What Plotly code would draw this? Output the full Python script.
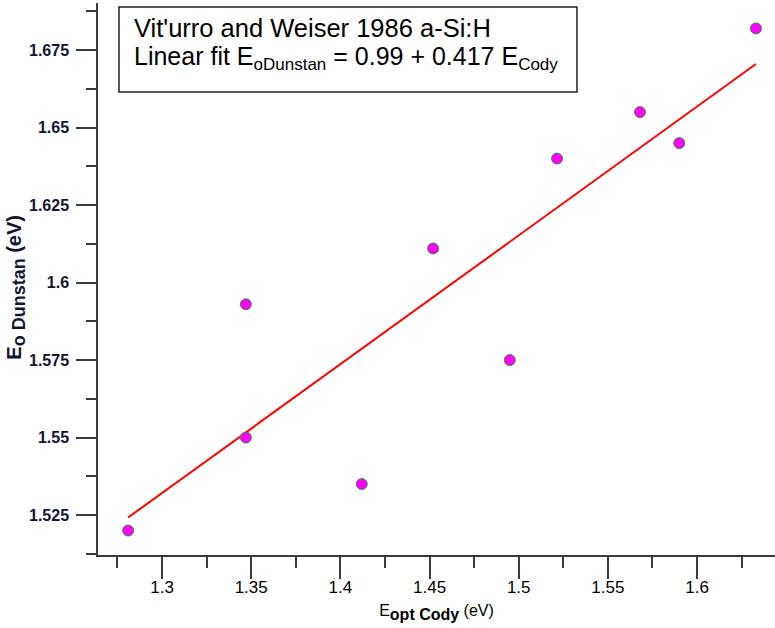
import plotly.graph_objects as go

# Data
e_cody = [1.281, 1.347, 1.347, 1.412, 1.452, 1.495, 1.5215, 1.568, 1.590, 1.633]
e_dunstan = [1.520, 1.593, 1.550, 1.535, 1.611, 1.575, 1.640, 1.655, 1.645, 1.682]

fit_x = [1.281, 1.633]
fit_y = [1.5242, 1.6705]

x_tickvals = [1.3, 1.35, 1.4, 1.45, 1.5, 1.55, 1.6]
x_ticktext = ["1.3", "1.35", "1.4", "1.45", "1.5", "1.55", "1.6"]
x_minorvals = [1.275, 1.325, 1.375, 1.425, 1.475, 1.525, 1.575, 1.625]

y_tickvals = [1.525, 1.55, 1.575, 1.6, 1.625, 1.65, 1.675]
y_ticktext = ["1.525", "1.55", "1.575", "1.6", "1.625", "1.65", "1.675"]
y_minorvals = [1.5125, 1.5375, 1.5625, 1.5875, 1.6125, 1.6375, 1.6625, 1.6875]

line1 = "Vit'urro and Weiser 1986 a-Si:H"
line2 = ("Linear fit E<sub><span style='font-size:17px'>oDunstan</span></sub> = 0.99 + 0.417 "
         "E<sub><span style='font-size:17px'>Cody</span></sub>")

fig = go.Figure()
fig.add_trace(go.Scatter(x=fit_x, y=fit_y, mode="lines",
                         line=dict(color="#ff0000", width=2), showlegend=False))
fig.add_trace(go.Scatter(x=e_cody, y=e_dunstan, mode="markers",
                         marker=dict(size=11, color="#ff00ff",
                                     line=dict(color="#3c8a3c", width=1)),
                         showlegend=False))

axcol = "#3a3a3a"
fig.update_layout(
    width=775, height=628,
    margin=dict(l=98, r=0, t=3, b=73),
    paper_bgcolor="white", plot_bgcolor="white",
    font=dict(family="Liberation Sans, Arial, sans-serif", color="black"),
    xaxis=dict(
        range=[1.2641, 1.6437], showgrid=False, zeroline=False, automargin=False,
        showline=True, linecolor=axcol, linewidth=1.5,
        ticks="outside", ticklen=22, tickwidth=1.5, tickcolor=axcol,
        tickvals=x_tickvals, ticktext=x_ticktext, ticklabelstandoff=-6,
        tickfont=dict(size=17, family="Liberation Sans, Arial", color="black"),
        minor=dict(ticks="outside", ticklen=11, tickwidth=1.5, tickcolor=axcol,
                   tickvals=x_minorvals),
        title=dict(text="E<sub><span style='font-size:16px'><b>opt Cody</b></span></sub> (eV)",
                   font=dict(size=16, color="black"), standoff=9),
    ),
    yaxis=dict(
        range=[1.5121, 1.6902], showgrid=False, zeroline=False, automargin=False,
        showline=True, linecolor=axcol, linewidth=1.5,
        ticks="outside", ticklen=20, tickwidth=1.5, tickcolor=axcol,
        tickvals=y_tickvals, ticktext=y_ticktext, ticklabelstandoff=4,
        tickfont=dict(size=16, family="Liberation Sans, Arial", color="#141430", weight="bold"),
        minor=dict(ticks="outside", ticklen=10, tickwidth=1.5, tickcolor=axcol,
                   tickvals=y_minorvals),
        title=dict(text="<b>E<sub><span style='font-size:18px'>o Dunstan</span></sub> (eV)</b>&nbsp;&nbsp;&nbsp;",
                   font=dict(size=20, color="#141430"), standoff=2),
    ),
    shapes=[dict(type="rect", xref="paper", yref="paper",
                 x0=0.031, x1=0.7075, y0=0.8388, y1=0.9928,
                 line=dict(color="#222222", width=1.5), fillcolor="white", layer="above")],
    annotations=[
        dict(text=line1, xref="paper", yref="paper", x=0.0502, y=0.9547,
             xanchor="left", yanchor="middle", showarrow=False,
             font=dict(size=25.5, color="black")),
        dict(text=line2, xref="paper", yref="paper", x=0.0502, y=0.9004,
             xanchor="left", yanchor="middle", showarrow=False,
             font=dict(size=25, color="black")),
    ],
)

fig.write_html("out.html", config={"displayModeBar": False},
               post_script="document.body.style.margin='0';")
